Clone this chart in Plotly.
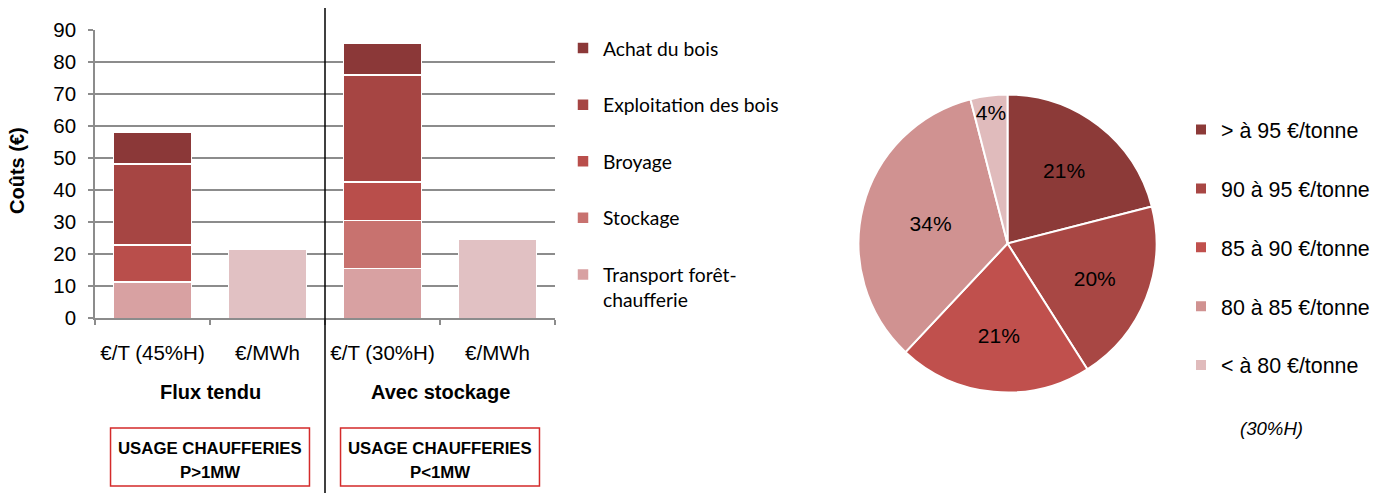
import plotly.graph_objects as go

# ---------------- data ----------------
categories = ["€/T (45%H)", "€/MWh", "€/T (30%H)", "€/MWh"]
groups = ["Flux tendu", "Avec stockage"]
usage = ["USAGE CHAUFFERIES", "USAGE CHAUFFERIES"]
usage_p = ["P&gt;1MW", "P&lt;1MW"]

cost_series = ["Transport forêt-<br>chaufferie", "Stockage", "Broyage",
               "Exploitation des bois", "Achat du bois"]
transport = [11.3, 15.6]
stockage = [0.0, 15.0]
broyage = [11.6, 12.0]
exploitation = [25.3, 33.4]
achat = [10.0, 9.9]
mwh = [21.7, 24.7]

pie_labels = ["> à 95 €/tonne", "90 à 95 €/tonne", "85 à 90 €/tonne",
              "80 à 85 €/tonne", "< à 80 €/tonne"]
pie_values = [21, 20, 21, 34, 4]

# ---------------- styles ----------------
bar_colors = ["#D8A1A2", "#C8726F", "#B94E4B", "#A64543", "#8B3838"]
mwh_color = "#E1C1C3"
pie_colors = ["#8C3A38", "#A84744", "#C0504D", "#D09291", "#E0BBBC"]
ARIAL = "Arial"
GRID = "#8c8c8c"
W, H = 1388, 493

tonne_idx = [0, 2]
mwh_idx = [1, 3]

fig = go.Figure()
series_vals = [transport, stockage, broyage, exploitation, achat]
n = len(cost_series)
for i, (name, vals, col) in enumerate(zip(cost_series, series_vals, bar_colors)):
    fig.add_trace(go.Bar(
        x=tonne_idx, y=vals, name=name, width=0.68,
        marker=dict(color=col, line=dict(color="white", width=1.5)),
        legendgroup=f"g{i}", legendrank=n - i, legend="legend"))
fig.add_trace(go.Bar(
    x=mwh_idx, y=mwh, name="€/MWh", width=0.68, showlegend=False,
    marker=dict(color=mwh_color, line=dict(color="white", width=1.5))))

legend_labels = [f"<span style='font-size:21.4px'>{l}</span><br> " for l in pie_labels]
fig.add_trace(go.Pie(
    labels=legend_labels, values=pie_values, sort=False, direction="clockwise",
    rotation=0, textinfo="percent", textposition="inside",
    insidetextorientation="horizontal", hoverinfo="percent+value",
    textfont=dict(family=ARIAL, size=21, color="black"),
    marker=dict(colors=pie_colors, line=dict(color="white", width=2)),
    domain=dict(x=[858.5 / W, 1156.5 / W], y=[1 - 392.5 / H, 1 - 94.5 / H]),
    legend="legend2"))

fig.update_layout(
    width=W, height=H, margin=dict(l=0, r=0, t=0, b=0, autoexpand=False),
    paper_bgcolor="white", plot_bgcolor="white",
    barmode="stack", showlegend=True,
    uniformtext=dict(minsize=21, mode="show"),
    font=dict(family=ARIAL, color="black"),
    xaxis=dict(domain=[95 / W, 555 / W], range=[-0.5, 3.5],
               tickmode="array", tickvals=list(range(len(categories))),
               ticktext=categories, ticks="", showgrid=False, zeroline=False,
               showline=True, linecolor=GRID, linewidth=1.5,
               tickfont=dict(size=20.5, family=ARIAL, color="black"),
               ticklabelstandoff=15,
               minor=dict(ticks="outside", tick0=-0.5, dtick=1, ticklen=5,
                          tickcolor=GRID, tickwidth=1.5, showgrid=False)),
    yaxis=dict(domain=[1 - 318.3 / H, 1 - 30 / H], range=[0, 90], dtick=10,
               showgrid=True, gridcolor=GRID, gridwidth=1.5, zeroline=False,
               showline=True, linecolor=GRID, linewidth=1.5,
               ticks="outside", ticklen=5, tickcolor=GRID, tickwidth=1.5,
               tickfont=dict(size=20.5, family=ARIAL, color="black"),
               ticklabelstandoff=8),
    legend=dict(x=563 / W, y=1 - 29 / H, xanchor="left", yanchor="top",
                traceorder="grouped", tracegroupgap=28.5,
                valign="top", bgcolor="rgba(0,0,0,0)",
                font=dict(family="Lato, Carlito, sans-serif", size=19.3,
                          color="black")),
    legend2=dict(x=1181 / W, y=1 - 109 / H, xanchor="left", yanchor="top",
                 valign="top", bgcolor="rgba(0,0,0,0)",
                 font=dict(family=ARIAL, size=21.5, color="black")),
)

# divider line between groups
fig.add_shape(type="line", xref="x", yref="paper", x0=1.5, x1=1.5,
              y0=0, y1=1 - 8 / H, line=dict(color="black", width=1.5))

# y-axis title
fig.add_annotation(x=17 / W, y=1 - 171 / H, xref="paper", yref="paper",
                   xanchor="center", yanchor="middle",
                   text="<b>Coûts (€)</b>", textangle=-90, showarrow=False,
                   font=dict(size=20, family=ARIAL, color="black"))

group_x = [0.5, 2.5]
for gx, g, u, p in zip(group_x, groups, usage, usage_p):
    fig.add_annotation(x=gx, y=1 - 392 / H, xref="x", yref="paper",
                       xanchor="center", yanchor="middle",
                       text=f"<b>{g}</b>", showarrow=False,
                       font=dict(size=20, family=ARIAL, color="black"))
    fig.add_shape(type="rect", xref="x", yref="paper",
                  x0=gx - 0.865, x1=gx + 0.865,
                  y0=1 - 486 / H, y1=1 - 428 / H,
                  line=dict(color="#D42A2A", width=1.5))
    fig.add_annotation(x=gx, y=1 - 448 / H, xref="x", yref="paper",
                       xanchor="center", yanchor="middle",
                       text=f"<b>{u}</b>", showarrow=False,
                       font=dict(size=16.8, family=ARIAL, color="black"))
    fig.add_annotation(x=gx, y=1 - 472 / H, xref="x", yref="paper",
                       xanchor="center", yanchor="middle",
                       text=f"<b>{p}</b>", showarrow=False,
                       font=dict(size=16.8, family=ARIAL, color="black"))

fig.add_annotation(x=1271 / W, y=1 - 428 / H, xref="paper", yref="paper",
                   xanchor="center", yanchor="middle",
                   text="<i>(30%H)</i>", showarrow=False,
                   font=dict(size=18.6, family=ARIAL, color="black"))

fig.write_html("out.html")
